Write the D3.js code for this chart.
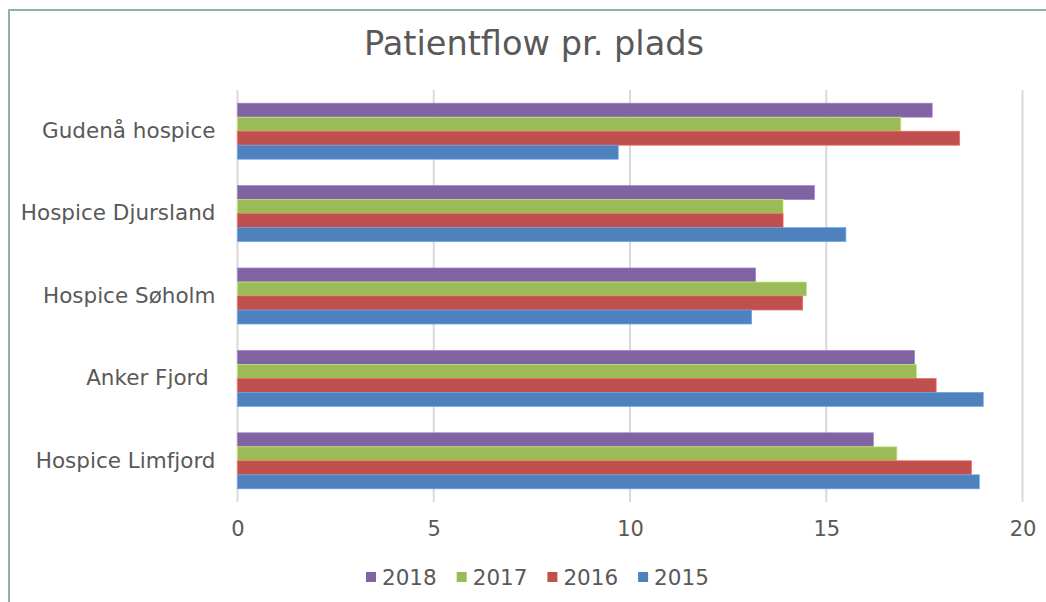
<!DOCTYPE html>
<html>
<head>
<meta charset="utf-8">
<script src="https://cdn.jsdelivr.net/npm/d3@7"></script>
<style>
  html, body { margin: 0; padding: 0; background: #fff; }
  svg { display: block; font-family: "DejaVu Sans", Verdana, sans-serif; }
</style>
</head>
<body>
<svg id="chart" width="1046" height="602"></svg>
<script>
const categories = ['Gudenå hospice', 'Hospice Djursland', 'Hospice Søholm', 'Anker Fjord ', 'Hospice Limfjord'];
const years = ['2018', '2017', '2016', '2015'];
const values2018 = [17.7, 14.7, 13.2, 17.25, 16.2];
const values2017 = [16.9, 13.9, 14.5, 17.3, 16.8];
const values2016 = [18.4, 13.9, 14.4, 17.8, 18.7];
const values2015 = [9.7, 15.5, 13.1, 19.0, 18.9];
const xTicks = [0, 5, 10, 15, 20];
const colors = ['#8064a2', '#9bbb59', '#c0504d', '#4f81bd'];

const series = [values2018, values2017, values2016, values2015];
const rows = [];
categories.forEach((c, i) => {
  years.forEach((y, j) => rows.push({ cat: c, year: y, value: series[j][i], color: colors[j] }));
});

const svg = d3.select('#chart');
const plot = { left: 237.5, right: 1022.5, top: 90, bottom: 502 };

// frame
svg.append('rect')
   .attr('x', 9).attr('y', 10)
   .attr('width', 1100).attr('height', 700)
   .attr('fill', 'none')
   .attr('stroke', '#8db3a3')
   .attr('stroke-width', 2);

svg.append('text')
   .attr('x', 534).attr('y', 55)
   .attr('text-anchor', 'middle')
   .attr('fill', '#595959')
   .style('font-size', '33.6px')
   .text('Patientflow pr. plads');

const x = d3.scaleLinear().domain([0, 20]).range([plot.left, plot.right]);
const y = d3.scaleBand().domain(categories).range([plot.top, plot.bottom])
            .paddingInner(0.32).paddingOuter(0.16);
const ySub = d3.scaleBand().domain(years).range([0, y.bandwidth()]);

// gridlines
svg.append('g').selectAll('line')
   .data(xTicks)
   .enter()
   .append('line')
   .attr('x1', d => x(d)).attr('x2', d => x(d))
   .attr('y1', plot.top).attr('y2', plot.bottom)
   .attr('stroke', '#d9d9d9')
   .attr('stroke-width', 2);

// bars
svg.append('g').selectAll('rect')
   .data(rows)
   .enter()
   .append('rect')
   .attr('x', x(0))
   .attr('y', d => y(d.cat) + ySub(d.year))
   .attr('width', d => x(d.value) - x(0))
   .attr('height', ySub.bandwidth())
   .attr('fill', d => d.color)
   .attr('stroke', d => d3.color(d.color).brighter(0.7))
   .attr('stroke-width', 0.7);

// x axis
const xAxis = d3.axisBottom(x).tickValues(xTicks).tickSize(0).tickPadding(0);
const gx = svg.append('g')
   .attr('transform', `translate(0, 521)`)
   .call(xAxis)
   .attr('font-family', null).attr('font-size', null);
gx.select('.domain').remove();
gx.selectAll('text').attr('fill', '#595959').style('font-size', '21px')
  .attr('dy', '0.71em');

// y axis
const yAxis = d3.axisLeft(y).tickSize(0).tickPadding(22);
const gy = svg.append('g')
   .attr('transform', `translate(${plot.left}, 0)`)
   .call(yAxis)
   .attr('font-family', null).attr('font-size', null);
gy.select('.domain').remove();
gy.selectAll('text').attr('fill', '#595959').style('font-size', '21.5px')
  .style('white-space', 'pre');

// legend
const legend = svg.append('g').attr('transform', 'translate(366, 577)');
const item = legend.selectAll('g')
   .data(years)
   .enter()
   .append('g')
   .attr('transform', (d, i) => `translate(${i * 90.7}, 0)`);
item.append('rect')
    .attr('x', 0).attr('y', -5)
    .attr('width', 10).attr('height', 10)
    .attr('fill', (d, i) => colors[i]);
item.append('text')
    .attr('x', 16).attr('y', 0).attr('dy', '0.35em')
    .attr('fill', '#595959')
    .style('font-size', '21.5px')
    .text(d => d);
</script>
</body>
</html>
